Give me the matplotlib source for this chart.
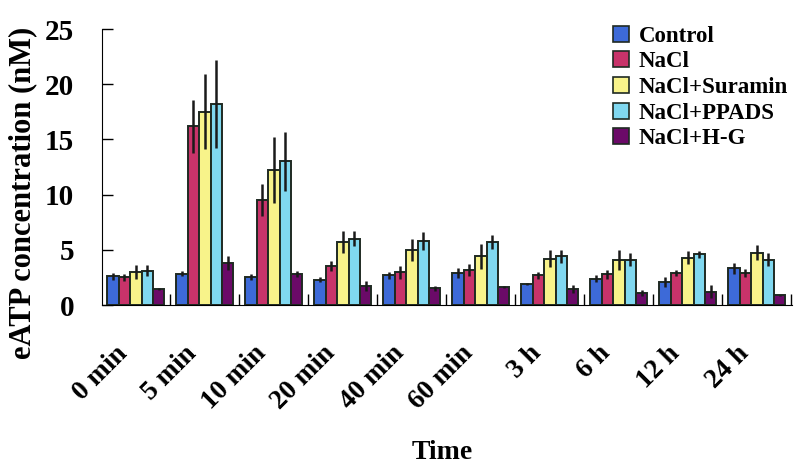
import matplotlib.pyplot as plt
import numpy as np
from matplotlib.patches import Patch
import matplotlib.transforms as mtransforms

plt.rcParams['font.family'] = ['Liberation Serif', 'DejaVu Serif']
plt.rcParams['font.weight'] = 'bold'
plt.rcParams['axes.labelweight'] = 'bold'

# time points
times = ['0 min', '5 min', '10 min', '20 min', '40 min', '60 min', '3 h', '6 h', '12 h', '24 h']

# mean eATP (nM) per treatment
control = [2.6, 2.85, 2.55, 2.3, 2.7, 2.9, 1.9, 2.4, 2.1, 3.35]
nacl = [2.5, 16.2, 9.5, 3.5, 2.95, 3.2, 2.7, 2.8, 2.9, 2.9]
suramin = [3.0, 17.5, 12.2, 5.7, 5.0, 4.4, 4.2, 4.1, 4.3, 4.75]
ppads = [3.1, 18.2, 13.0, 6.0, 5.8, 5.7, 4.4, 4.1, 4.6, 4.1]
hg = [1.45, 3.8, 2.8, 1.7, 1.5, 1.6, 1.45, 1.1, 1.2, 0.9]

# error bars (+/-)
control_err = [0.3, 0.25, 0.3, 0.2, 0.3, 0.45, 0.1, 0.3, 0.45, 0.5]
nacl_err = [0.3, 2.4, 1.45, 0.45, 0.6, 0.55, 0.3, 0.4, 0.3, 0.4]
suramin_err = [0.6, 3.4, 3.0, 1.0, 1.0, 1.1, 0.75, 0.9, 0.6, 0.7]
ppads_err = [0.5, 4.0, 2.7, 0.7, 0.8, 0.6, 0.6, 0.6, 0.3, 0.6]
hg_err = [0.1, 0.6, 0.3, 0.45, 0.25, 0.1, 0.4, 0.3, 0.6, 0.05]

labels = ['Control', 'NaCl', 'NaCl+Suramin', 'NaCl+PPADS', 'NaCl+H-G']
colors = ['#3d6ad8', '#c8336a', '#f8f38a', '#80d8f0', '#6b0a68']
series = [control, nacl, suramin, ppads, hg]
errors = [control_err, nacl_err, suramin_err, ppads_err, hg_err]

fig = plt.figure(figsize=(8, 4.72), dpi=100)
ax = fig.add_axes([0.1275, 0.3538, 0.8625, 0.5847])

x = np.arange(len(times))
w = 0.165
for i, (vals, errs) in enumerate(zip(series, errors)):
    pos = x + (i - 2) * w
    ax.bar(pos, vals, w, color=colors[i], edgecolor='#1f2a22', linewidth=1.4, zorder=2)
    ax.errorbar(pos, vals, yerr=errs, fmt='none', ecolor='#1a1a1a', elinewidth=1.8, capsize=0, zorder=3)

ax.set_xlim(-0.49, 9.51)
ax.set_ylim(0, 25)
ax.set_yticks([0, 5, 10, 15, 20, 25])
ax.tick_params(axis='y', direction='in', length=8, width=1, labelsize=21, pad=20)
ax.spines['top'].set_visible(False)
ax.spines['right'].set_visible(False)

# group separators as ticks, labels drawn as minor ticks at centres
ax.set_xticks(np.arange(len(times)) + 0.5)
ax.set_xticklabels([])
ax.tick_params(axis='x', which='major', direction='in', length=8, width=1)
ax.set_xticks(x, minor=True)
ax.set_xticklabels(times, minor=True, rotation=45, ha='right', va='top',
                   rotation_mode='anchor', fontsize=19.5)
ax.tick_params(axis='x', which='minor', length=0, pad=26)
offset = mtransforms.ScaledTranslation(-15 / 72, 0, fig.dpi_scale_trans)
for lab in ax.get_xticklabels(minor=True):
    lab.set_transform(lab.get_transform() + offset)

ax.set_ylabel('eATP concentration (nM)', fontsize=22)
ax.yaxis.set_label_coords(-0.094, 0.405)
fig.text(0.553, 0.042, 'Time', ha='center', va='center', fontsize=20, fontweight='bold')

handles = [Patch(facecolor=c, edgecolor='#1f2a22', linewidth=1.2) for c in colors]
ax.legend(handles, labels, loc='upper left', bbox_to_anchor=(0.755, 0.965),
          bbox_transform=fig.transFigure, frameon=False, fontsize=16.5,
          handlelength=0.7, handleheight=0.7, handletextpad=0.4, labelspacing=0.2,
          borderaxespad=0)

fig.savefig('out.png', dpi=100)
